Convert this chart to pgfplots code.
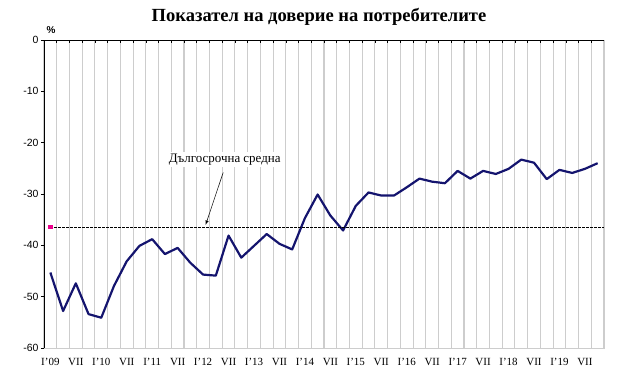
\documentclass[border=0pt]{standalone}
\usepackage{fontspec}
\setmainfont{Liberation Serif}
\newfontfamily\arialf{Liberation Sans}
\usepackage{pgfplots}
\pgfplotsset{compat=1.18}
\definecolor{navyline}{RGB}{20,20,110}
\definecolor{gridgray}{RGB}{205,205,205}
\begin{document}
\begin{tikzpicture}[x=1bp,y=1bp]
\begin{axis}[
  at={(44bp,34bp)}, anchor=south west,
  scale only axis, width=560bp, height=308bp,
  xmin=-0.5, xmax=43.5, ymin=-60, ymax=0,
  ytick={-60,-50,...,0},
  xtick={0,2,...,42},
  xticklabels={I'09,VII,I'10,VII,I'11,VII,I'12,VII,I'13,VII,I'14,VII,I'15,VII,I'16,VII,I'17,VII,I'18,VII,I'19,VII},
  minor xtick={-0.5,0.5,...,43.5},
  xminorgrids, minor x grid style={gridgray, line width=1.1pt},
  major x tick style={draw=none},
  minor x tick style={black, line width=0.6pt},
  minor tick length=3bp,
  major tick length=3bp,
  xtick pos=upper, xticklabel pos=lower,
  ytick pos=left,
  y tick style={black, line width=0.6pt, xshift=-3bp},
  tick align=inside,
  axis line style={gridgray, line width=1pt},
  xticklabel style={font=\fontsize{11}{12}\selectfont, yshift=-7bp},
  yticklabel style={font=\arialf\fontsize{10.5}{12}\selectfont, xshift=-2bp},
  /pgf/number format/assume math mode=true,
  clip=false,
]
\addplot[navyline, line width=2.2pt, line join=round] coordinates {
(0,-45.3) (1,-52.8) (2,-47.4) (3,-53.4) (4,-54.1) (5,-47.9) (6,-43.1) (7,-40.1)
(8,-38.8) (9,-41.7) (10,-40.5) (11,-43.4) (12,-45.7) (13,-45.9) (14,-38.1) (15,-42.4)
(16,-40.1) (17,-37.8) (18,-39.7) (19,-40.8) (20,-34.7) (21,-30.1) (22,-34.2) (23,-37.1)
(24,-32.3) (25,-29.7) (26,-30.3) (27,-30.3) (28,-28.7) (29,-27.0) (30,-27.6) (31,-27.9)
(32,-25.5) (33,-27.0) (34,-25.5) (35,-26.1) (36,-25.1) (37,-23.3) (38,-23.9) (39,-27.1)
(40,-25.3) (41,-25.9) (42,-25.1) (43,-24.0)
};
\addplot[black, line width=0.6pt, dash pattern=on 2.5bp off 1.5bp] coordinates {(0,-36.4) (43.5,-36.4)};
\addplot[only marks, mark=square*, mark size=1.8pt, color=magenta] coordinates {(0,-36.4)};
\draw[black, line width=0.8pt] (rel axis cs:0,1) -- (rel axis cs:1,1);
\draw[black, line width=0.8pt] (rel axis cs:0,0) -- (rel axis cs:0,1);
\node[fill=white, inner sep=1.5pt, font=\fontsize{13}{14}\selectfont] at (axis cs:13.7,-23.3) {Дългосрочна средна};
\draw[black, line width=0.5pt, -{latex}] (axis cs:13.58,-25.8) -- (axis cs:12.2,-36.0);
\end{axis}
\node[font=\bfseries\fontsize{18.6}{20}\selectfont] at (319bp,365bp) {Показател на доверие на потребителите};
\node[font=\arialf\bfseries\fontsize{10}{11}\selectfont] at (51bp,352bp) {\%};
\pgfresetboundingbox
\path (0,0) rectangle (630bp,382bp);
\end{tikzpicture}
\end{document}
